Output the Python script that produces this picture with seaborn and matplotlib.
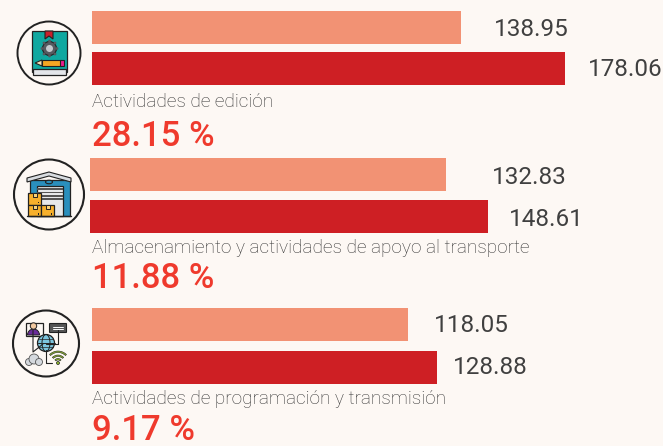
import matplotlib
matplotlib.use('Agg')
import matplotlib.pyplot as plt
from matplotlib.patches import Circle, Rectangle, Polygon, Wedge, Ellipse, FancyBboxPatch
import pandas as pd
import seaborn as sns

# data
categories = ['Actividades de edición',
              'Almacenamiento y actividades de apoyo al transporte',
              'Actividades de programación y transmisión']
values_a = [138.95, 132.83, 118.05]
values_b = [178.06, 148.61, 128.88]
growth = ['28.15 %', '11.88 %', '9.17 %']
periods = ['a', 'b']

BG = '#FDF8F4'
SALMON = '#F29274'
RED = '#CE1F24'
LINE = '#222222'

sns.set_theme(style='white', rc={'figure.facecolor': BG, 'axes.facecolor': 'none'})
plt.rcParams['font.family'] = ['Roboto', 'DejaVu Sans']

W, H = 663, 446
fig = plt.figure(figsize=(W / 100, H / 100), dpi=100, facecolor=BG)

# layout per group, in pixels: bar left, first and second bar centre, px per unit
bar_left = [92, 90, 92]
centres = [(27.5, 68.5), (174.5, 216.5), (324.5, 367)]
px_per_unit = [2.655, 2.68, 2.675]
label_gap = [(33, 23), (46, 21), (26, 16)]
label_dy = [1, 0, 2]
cat_y = [102, 248, 399]
pct_y = [137, 278, 431]

for i in range(3):
    c0, c1 = centres[i]
    pitch = c1 - c0
    top = c0 - pitch / 2
    left = bar_left[i]
    ax = fig.add_axes([left / W, 1 - (top + 2 * pitch) / H, (W - left) / W, 2 * pitch / H])
    df = pd.DataFrame({'period': periods, 'value': [values_a[i], values_b[i]]})
    sns.barplot(data=df, x='value', y='period', hue='period', palette=[SALMON, RED],
                width=33 / pitch, legend=False, saturation=1, linewidth=0, ax=ax)
    ax.set_xlim(0, (W - left) / px_per_unit[i])
    ax.set_axis_off()
    for j, v in enumerate(df['value']):
        ax.annotate(f'{v:.2f}', (v, j), xytext=(label_gap[i][j] * 0.72, label_dy[i] * 0.72),
                    textcoords='offset points', ha='left', va='center_baseline',
                    fontsize=17.5, color='#404040', annotation_clip=False)

# overlay in pixel coordinates for texts and icons
ov = fig.add_axes([0, 0, 1, 1])
ov.set_xlim(0, W)
ov.set_ylim(H, 0)
ov.set_axis_off()
ov.patch.set_alpha(0)

for i in range(3):
    ov.text(92, cat_y[i], categories[i], fontsize=13.65, fontweight='light',
            color='#333333', ha='left', va='center')
    ov.text(92, pct_y[i], growth[i], fontsize=25, fontweight='medium',
            color='#EF3A2D', ha='left', va='center')


def rect(x, y, w, h, fc, lw=0.9, ec=LINE):
    ov.add_patch(Rectangle((x, y), w, h, fc=fc, ec=ec, lw=lw))


# icon 1: book
ov.add_patch(Circle((49, 53), 31.5, fc='none', ec=LINE, lw=1.4))
rect(32, 31, 35, 41, '#0FA8A0')
rect(33, 69, 33, 6, '#E4E6EA')
ov.add_patch(Polygon([(45, 31), (53, 31), (53, 39), (49, 36), (45, 39)], fc='#C8202C', ec=LINE, lw=0.8))
ov.add_patch(Circle((49.5, 48.5), 7, fc='#555A60', ec=LINE, lw=0.8))
ov.add_patch(Circle((49.5, 48.5), 3.5, fc='#C4C8CC', ec='none'))
for dx, dy in [(0, -7.5), (0, 7.5), (-7.5, 0), (7.5, 0), (-5.5, -5.5), (5.5, -5.5), (-5.5, 5.5), (5.5, 5.5)]:
    ov.add_patch(Circle((49.5 + dx, 48.5 + dy), 1.4, fc='#555A60', ec='none'))
rect(42, 60, 19, 6, '#F5A623', lw=0.8)
rect(60, 60, 3.5, 6, '#E91E8C', lw=0.8)
ov.add_patch(Polygon([(35, 63), (42, 60), (42, 66)], fc='#F7E3B5', ec=LINE, lw=0.8))

# icon 2: warehouse
ov.add_patch(Circle((49, 194.5), 35, fc='none', ec=LINE, lw=1.5))
rect(30, 180, 40, 36, '#2A8FBD')
ov.add_patch(Polygon([(27, 178), (49, 172), (71, 178), (71, 182), (49, 176), (27, 182)], fc='#D8DCE0', ec=LINE, lw=0.8))
ov.add_patch(Ellipse((49, 182), 7, 3.5, fc='#2A8FBD', ec=LINE, lw=0.8))
rect(37, 186, 26, 30, '#E6E8EA')
for y in [188, 191.5, 195, 198]:
    rect(37, y, 26, 1.6, '#555555', lw=0)
for x, y in [(28, 193), (28, 204.5), (41, 204.5)]:
    rect(x, y, 13, 11.5, '#F7B02C')
    rect(x + 4.5, y, 4, 4, '#F9D27A', lw=0.7)
    rect(x + 9.5, y + 8.5, 1.8, 1.8, '#222222', lw=0)
ov.plot([27, 71], [216, 216], color=LINE, lw=1)

# icon 3: network
ov.add_patch(Circle((46, 343.5), 33, fc='none', ec=LINE, lw=1.5))
ov.plot([33, 33, 43], [330, 352, 344], color=LINE, lw=0.8)
ov.plot([58, 58, 46], [330, 344, 344], color=LINE, lw=0.8)
ov.plot([46, 46, 52], [350, 363, 363], color=LINE, lw=0.8)
rect(26, 323, 17, 13, BG, lw=0.9)
ov.add_patch(Wedge((33.5, 335), 6, 180, 360, fc='#6A2C9A', ec=LINE, lw=0.7))
ov.add_patch(Circle((33.5, 326), 3.2, fc='#F2C9A0', ec=LINE, lw=0.7))
ov.add_patch(FancyBboxPatch((50, 324), 16, 8, boxstyle='round,pad=0.5', fc='#555555', ec=LINE, lw=0.8))
for y in [326.5, 329]:
    ov.plot([53, 63], [y, y], color='white', lw=0.7)
ov.add_patch(Circle((46, 343), 8.5, fc='#7CC5DE', ec=LINE, lw=0.9))
ov.add_patch(Ellipse((46, 343), 8, 17, fc='none', ec=LINE, lw=0.7))
ov.plot([37.5, 54.5], [343, 343], color=LINE, lw=0.7)
for y in [339, 347]:
    ov.plot([39, 53], [y, y], color=LINE, lw=0.5)
for r in [12, 8, 4.5]:
    ov.add_patch(Wedge((58, 363), r, 225, 315, width=1.5, fc='#8DB62C', ec=LINE, lw=0.4))
ov.add_patch(Circle((58, 363), 1.5, fc='#8DB62C', ec=LINE, lw=0.5))
for x, y, r in [(29, 362, 3.5), (34, 359, 5), (39, 362, 3.5)]:
    ov.add_patch(Circle((x, y), r, fc='#D5D9DE', ec='#555555', lw=0.6))

fig.savefig('out.png', dpi=100, facecolor=BG)
